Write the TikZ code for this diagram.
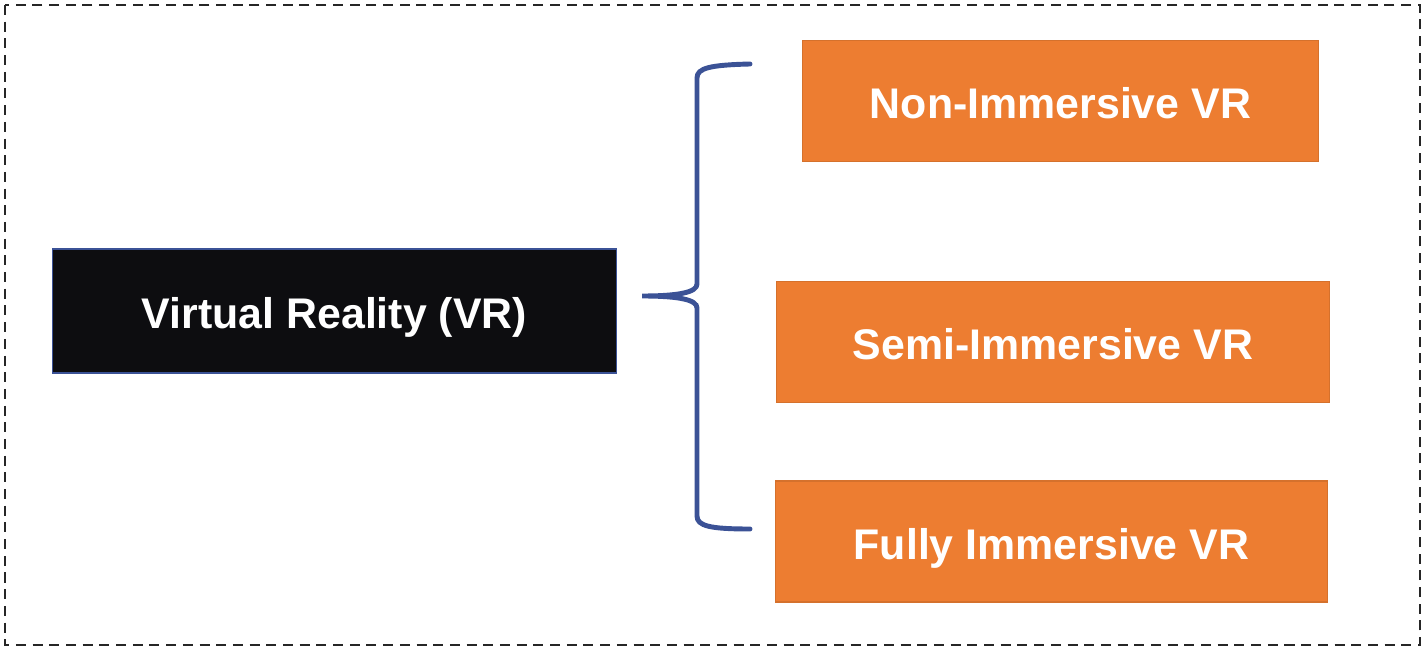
\documentclass[tikz,border=0pt]{standalone}
\usepackage{fontspec}
\setmainfont{Liberation Sans}
\usetikzlibrary{positioning}

\definecolor{vrorange}{HTML}{ED7D31}
\definecolor{vrblack}{HTML}{0D0D10}
\definecolor{vrblue}{HTML}{3B5296}

\begin{document}
\begin{tikzpicture}[x=0.02cm, y=-0.02cm,
                    mainbox/.style={rectangle, draw=vrblue, line width=0.6pt, fill=vrblack, text=white,
                                    minimum width=11.3cm, minimum height=2.48cm, inner sep=0pt,
                                    text height=20.3pt, text depth=0pt,
                                    font=\fontsize{24.4}{28}\selectfont\bfseries},
                    typebox/.style={rectangle, draw=vrorange!90!black, line width=0.6pt, fill=vrorange, text=white,
                                    minimum height=2.42cm, inner sep=0pt,
                                    text height=20.3pt, text depth=0pt,
                                    font=\fontsize{24.4}{28}\selectfont\bfseries},
                    bracket/.style={draw=vrblue, line width=2.8pt, line cap=round}]
  \useasboundingbox (0,0) rectangle (1425,651);
  \draw[line width=1.1pt, dash pattern=on 5.7pt off 3.8pt, black!85] (5,5) rectangle (1420,645);

  \node[mainbox] (vr) at (334.5,311) {Virtual Reality (VR)};
  \node[typebox, minimum width=10.34cm] (nonimm) at (1060.5,101) {Non-Immersive VR};
  \node[typebox, minimum width=11.08cm] (semiimm) at (1053,342) {Semi-Immersive VR};
  \node[typebox, minimum width=11.06cm] (fullimm) at (1051.5,541.5) {Fully Immersive VR};

  % brace ends
  \coordinate (btop) at (750,64);
  \coordinate (btip) at (642,296);
  \coordinate (bbot) at (750,529);
  \draw[bracket] (btop) .. controls (710,65) and (697,68) .. (697,78) -- (697,284)
                 .. controls (697,292) and (680,296) .. (btip)
                 .. controls (680,296) and (697,300) .. (697,308) -- (697,516)
                 .. controls (697,526) and (710,529) .. (bbot);
\end{tikzpicture}
\end{document}
